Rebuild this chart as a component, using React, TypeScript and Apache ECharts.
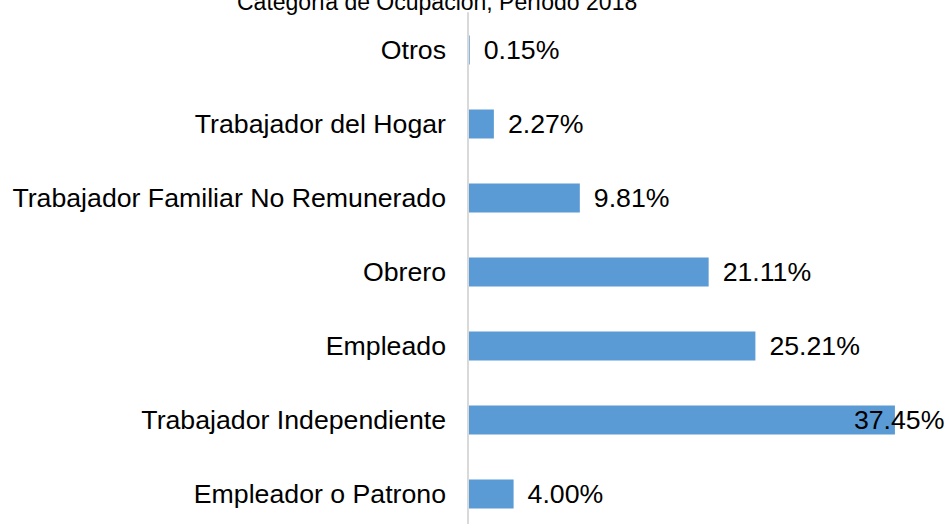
import React, { useEffect, useRef } from "react";
import * as echarts from "echarts";

const categories = [
  "Otros",
  "Trabajador del Hogar",
  "Trabajador Familiar No Remunerado",
  "Obrero",
  "Empleado",
  "Trabajador Independiente",
  "Empleador o Patrono",
];
const values = [0.15, 2.27, 9.81, 21.11, 25.21, 37.45, 4.0];
const titleText = "Categoría de Ocupación, Período 2018";

const FONT = "Arial, 'Liberation Sans', sans-serif";

export default function App() {
  const ref = useRef<HTMLDivElement>(null);
  useEffect(() => {
    if (!ref.current) return;
    const chart = echarts.init(ref.current, undefined, { renderer: "svg" });
    const maxIdx = values.indexOf(Math.max(...values));
    chart.setOption({
      animation: false,
      backgroundColor: "#ffffff",
      graphic: [
        {
          type: "text",
          left: 437 - 200,
          top: -10,
          style: {
            text: titleText,
            fontSize: 23,
            fontFamily: FONT,
            fill: "#000000",
            width: 400,
            align: "center",
          },
        },
      ],
      grid: { left: 468, right: 25, top: 13, bottom: 0, containLabel: false },
      xAxis: {
        type: "value",
        min: 0,
        max: 40,
        show: false,
      },
      yAxis: {
        type: "category",
        data: categories,
        inverse: true,
        z: 3,
        axisTick: { show: false },
        axisLine: { show: true, lineStyle: { color: "#d9d9d9", width: 2 } },
        axisLabel: {
          fontSize: 26.7,
          fontFamily: FONT,
          color: "#000000",
          margin: 22,
        },
        splitLine: { show: false },
      },
      series: [
        {
          type: "bar",
          barWidth: 29,
          data: values.map((v, i) =>
            i === maxIdx
              ? { value: v, label: { offset: [-55, 0] } }
              : { value: v }
          ),
          itemStyle: { color: "#5b9bd5" },
          label: {
            show: true,
            position: "right",
            distance: 14,
            fontSize: 26.7,
            fontFamily: FONT,
            color: "#000000",
            formatter: (p: any) => Number(p.value).toFixed(2) + "%",
          },
        },
      ],
    });
    return () => chart.dispose();
  }, []);
  return (
    <div
      ref={ref}
      style={{ position: "fixed", left: 0, top: 0, width: 949, height: 531 }}
    />
  );
}
